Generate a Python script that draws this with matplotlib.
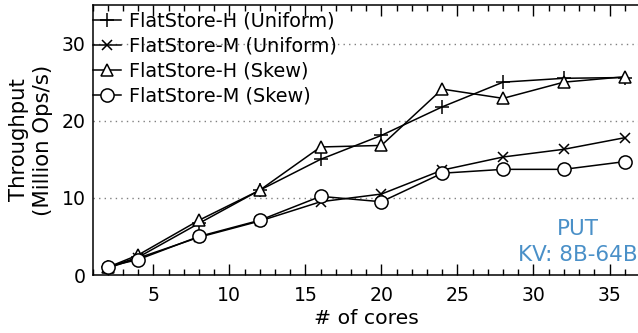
import matplotlib
matplotlib.use("Agg")
import matplotlib.pyplot as plt
from matplotlib.ticker import MultipleLocator

# cores and throughput (Mops/s)
cores = [2, 4, 8, 12, 16, 20, 24, 28, 32, 36]
h_uniform = [1.0, 2.3, 6.7, 11.0, 15.0, 18.1, 21.8, 25.0, 25.5, 25.6]
m_uniform = [0.9, 2.2, 4.9, 7.0, 9.5, 10.5, 13.6, 15.3, 16.3, 17.8]
h_skew = [1.0, 2.6, 7.1, 11.0, 16.6, 16.8, 24.1, 22.9, 25.0, 25.7]
m_skew = [1.1, 2.0, 5.0, 7.1, 10.2, 9.5, 13.2, 13.7, 13.7, 14.7]

labels = ["FlatStore-H (Uniform)", "FlatStore-M (Uniform)",
          "FlatStore-H (Skew)", "FlatStore-M (Skew)"]

plt.rcParams['font.family'] = 'DejaVu Sans'
fig = plt.figure(figsize=(6.38, 3.33), dpi=100)
ax = fig.add_axes([0.145, 0.174, 0.858, 0.811])

ax.plot(cores, h_uniform, color='black', lw=1.1, marker='+', ms=10, mew=1.1, label=labels[0])
ax.plot(cores, m_uniform, color='black', lw=1.1, marker='x', ms=7.5, mew=1.1, label=labels[1])
ax.plot(cores, h_skew, color='black', lw=1.1, marker='^', ms=9, mew=1.1, mfc='white', label=labels[2])
ax.plot(cores, m_skew, color='black', lw=1.1, marker='o', ms=9.5, mew=1.1, mfc='white', label=labels[3])

ax.set_xlim(1, 37)
ax.set_ylim(0, 35)
ax.xaxis.set_major_locator(MultipleLocator(5))
ax.xaxis.set_minor_locator(MultipleLocator(1))
ax.set_yticks([0, 10, 20, 30])
ax.tick_params(axis='x', which='major', direction='in', top=True, length=8, width=1, labelsize=13.6, pad=8)
ax.tick_params(axis='x', which='minor', direction='in', top=True, length=4, width=1)
ax.tick_params(axis='y', length=0, labelsize=13.6, pad=5)
ax.spines['right'].set_visible(False)
for s in ax.spines.values():
    s.set_linewidth(1.1)

for y in [10, 20, 30]:
    ax.axhline(y, color='gray', lw=1, ls=(0, (1, 3)), zorder=0)

ax.set_xlabel("# of cores", fontsize=14.7, labelpad=3)
ax.set_ylabel("Throughput\n(Million Ops/s)", fontsize=15.3, labelpad=6, linespacing=1.25)

ax.legend(loc='upper left', bbox_to_anchor=(0, 1 - 7 / 270), frameon=False,
          fontsize=13.9, borderaxespad=0, borderpad=0, handlelength=1.5,
          handletextpad=0.4, labelspacing=0.3)

ax.text(32.9, 4.3, "PUT\nKV: 8B-64B", color='#4a90c8', fontsize=15.5,
        ha='center', va='center', multialignment='center', linespacing=1.42)

fig.savefig("out.png", dpi=100)
